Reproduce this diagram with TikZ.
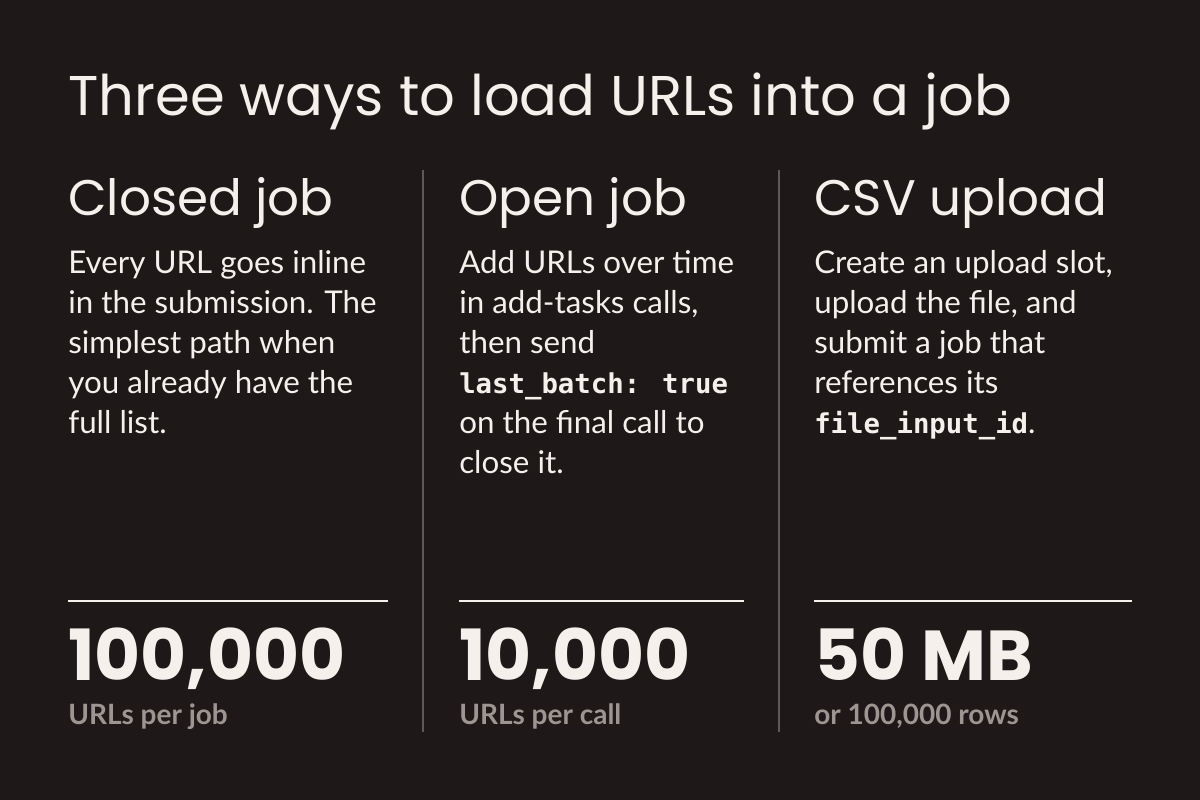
\documentclass[tikz,border=0pt]{standalone}
\usepackage{fontspec}
\setmainfont{Lato}
\newfontfamily\headfont{Poppins}
\newfontfamily\codefont{DejaVu Sans Mono}
\definecolor{bg}{HTML}{1E1918}
\definecolor{ink}{HTML}{F5F0EB}
\definecolor{muted}{HTML}{9C9591}
\definecolor{rule}{HTML}{5E5856}
\newcommand{\code}[1]{{\codefont\bfseries\fontsize{20.5}{30}\selectfont #1}}

\begin{document}
\begin{tikzpicture}[x=0.75pt,y=-0.75pt,
    title/.style={anchor=base west,inner sep=0pt,text=ink,font=\headfont\fontsize{42}{50}\selectfont},
    head/.style={anchor=base west,inner sep=0pt,text=ink,font=\headfont\fontsize{37.5}{44}\selectfont},
    body/.style={anchor=north west,inner sep=0pt,text=ink,align=left,font=\fontsize{23.5}{30}\selectfont},
    big/.style={anchor=base west,inner sep=0pt,text=ink,font=\headfont\bfseries\fontsize{53}{62}\selectfont},
    unit/.style={anchor=base west,inner sep=0pt,text=muted,font=\bfseries\fontsize{21}{24}\selectfont},
    sep/.style={rule,line width=1.5pt},
    bar/.style={ink,line width=1.5pt}]

    % background and frame
    \fill[bg] (0,0) rectangle (1200,800);
    \useasboundingbox (0,0) rectangle (1200,800);

    % title
    \node[title] (title) at (68,115) {Three ways to load URLs into a job};

    % column dividers
    \coordinate (d1top) at (423,170);
    \coordinate (d1bot) at (423,732);
    \coordinate (d2top) at (779,170);
    \coordinate (d2bot) at (779,732);
    \draw[sep] (d1top) -- (d1bot);
    \draw[sep] (d2top) -- (d2bot);

    % closed job
    \node[head] (closed) at (68,215) {Closed job};
    \node[body] (closedtxt) at (68,250) {Every URL goes inline\\in the submission. The\\simplest path when\\you already have the\\full list.};
    \coordinate (r1a) at (68,601);
    \coordinate (r1b) at (388,601);
    \draw[bar] (r1a) -- (r1b);
    \node[big] (closednum) at (68,680) {100,000};
    \node[unit] (closedunit) at (68,724) {URLs per job};

    % open job
    \node[head] (open) at (459,215) {Open job};
    \node[body] (opentxt) at (459,250) {Add URLs over time\\in add-tasks calls,\\then send\\\code{last\_batch: true}\\on the final call to\\close it.};
    \coordinate (r2a) at (459,601);
    \coordinate (r2b) at (744,601);
    \draw[bar] (r2a) -- (r2b);
    \node[big] (opennum) at (459,680) {10,000};
    \node[unit] (openunit) at (459,724) {URLs per call};

    % csv upload
    \node[head] (csv) at (814,215) {CSV upload};
    \node[body] (csvtxt) at (814,250) {Create an upload slot,\\upload the file, and\\submit a job that\\references its\\\code{file\_input\_id}.};
    \coordinate (r3a) at (814,601);
    \coordinate (r3b) at (1132,601);
    \draw[bar] (r3a) -- (r3b);
    \node[big] (csvnum) at (814,680) {50 MB};
    \node[unit] (csvunit) at (814,724) {or 100,000 rows};

\end{tikzpicture}
\end{document}
